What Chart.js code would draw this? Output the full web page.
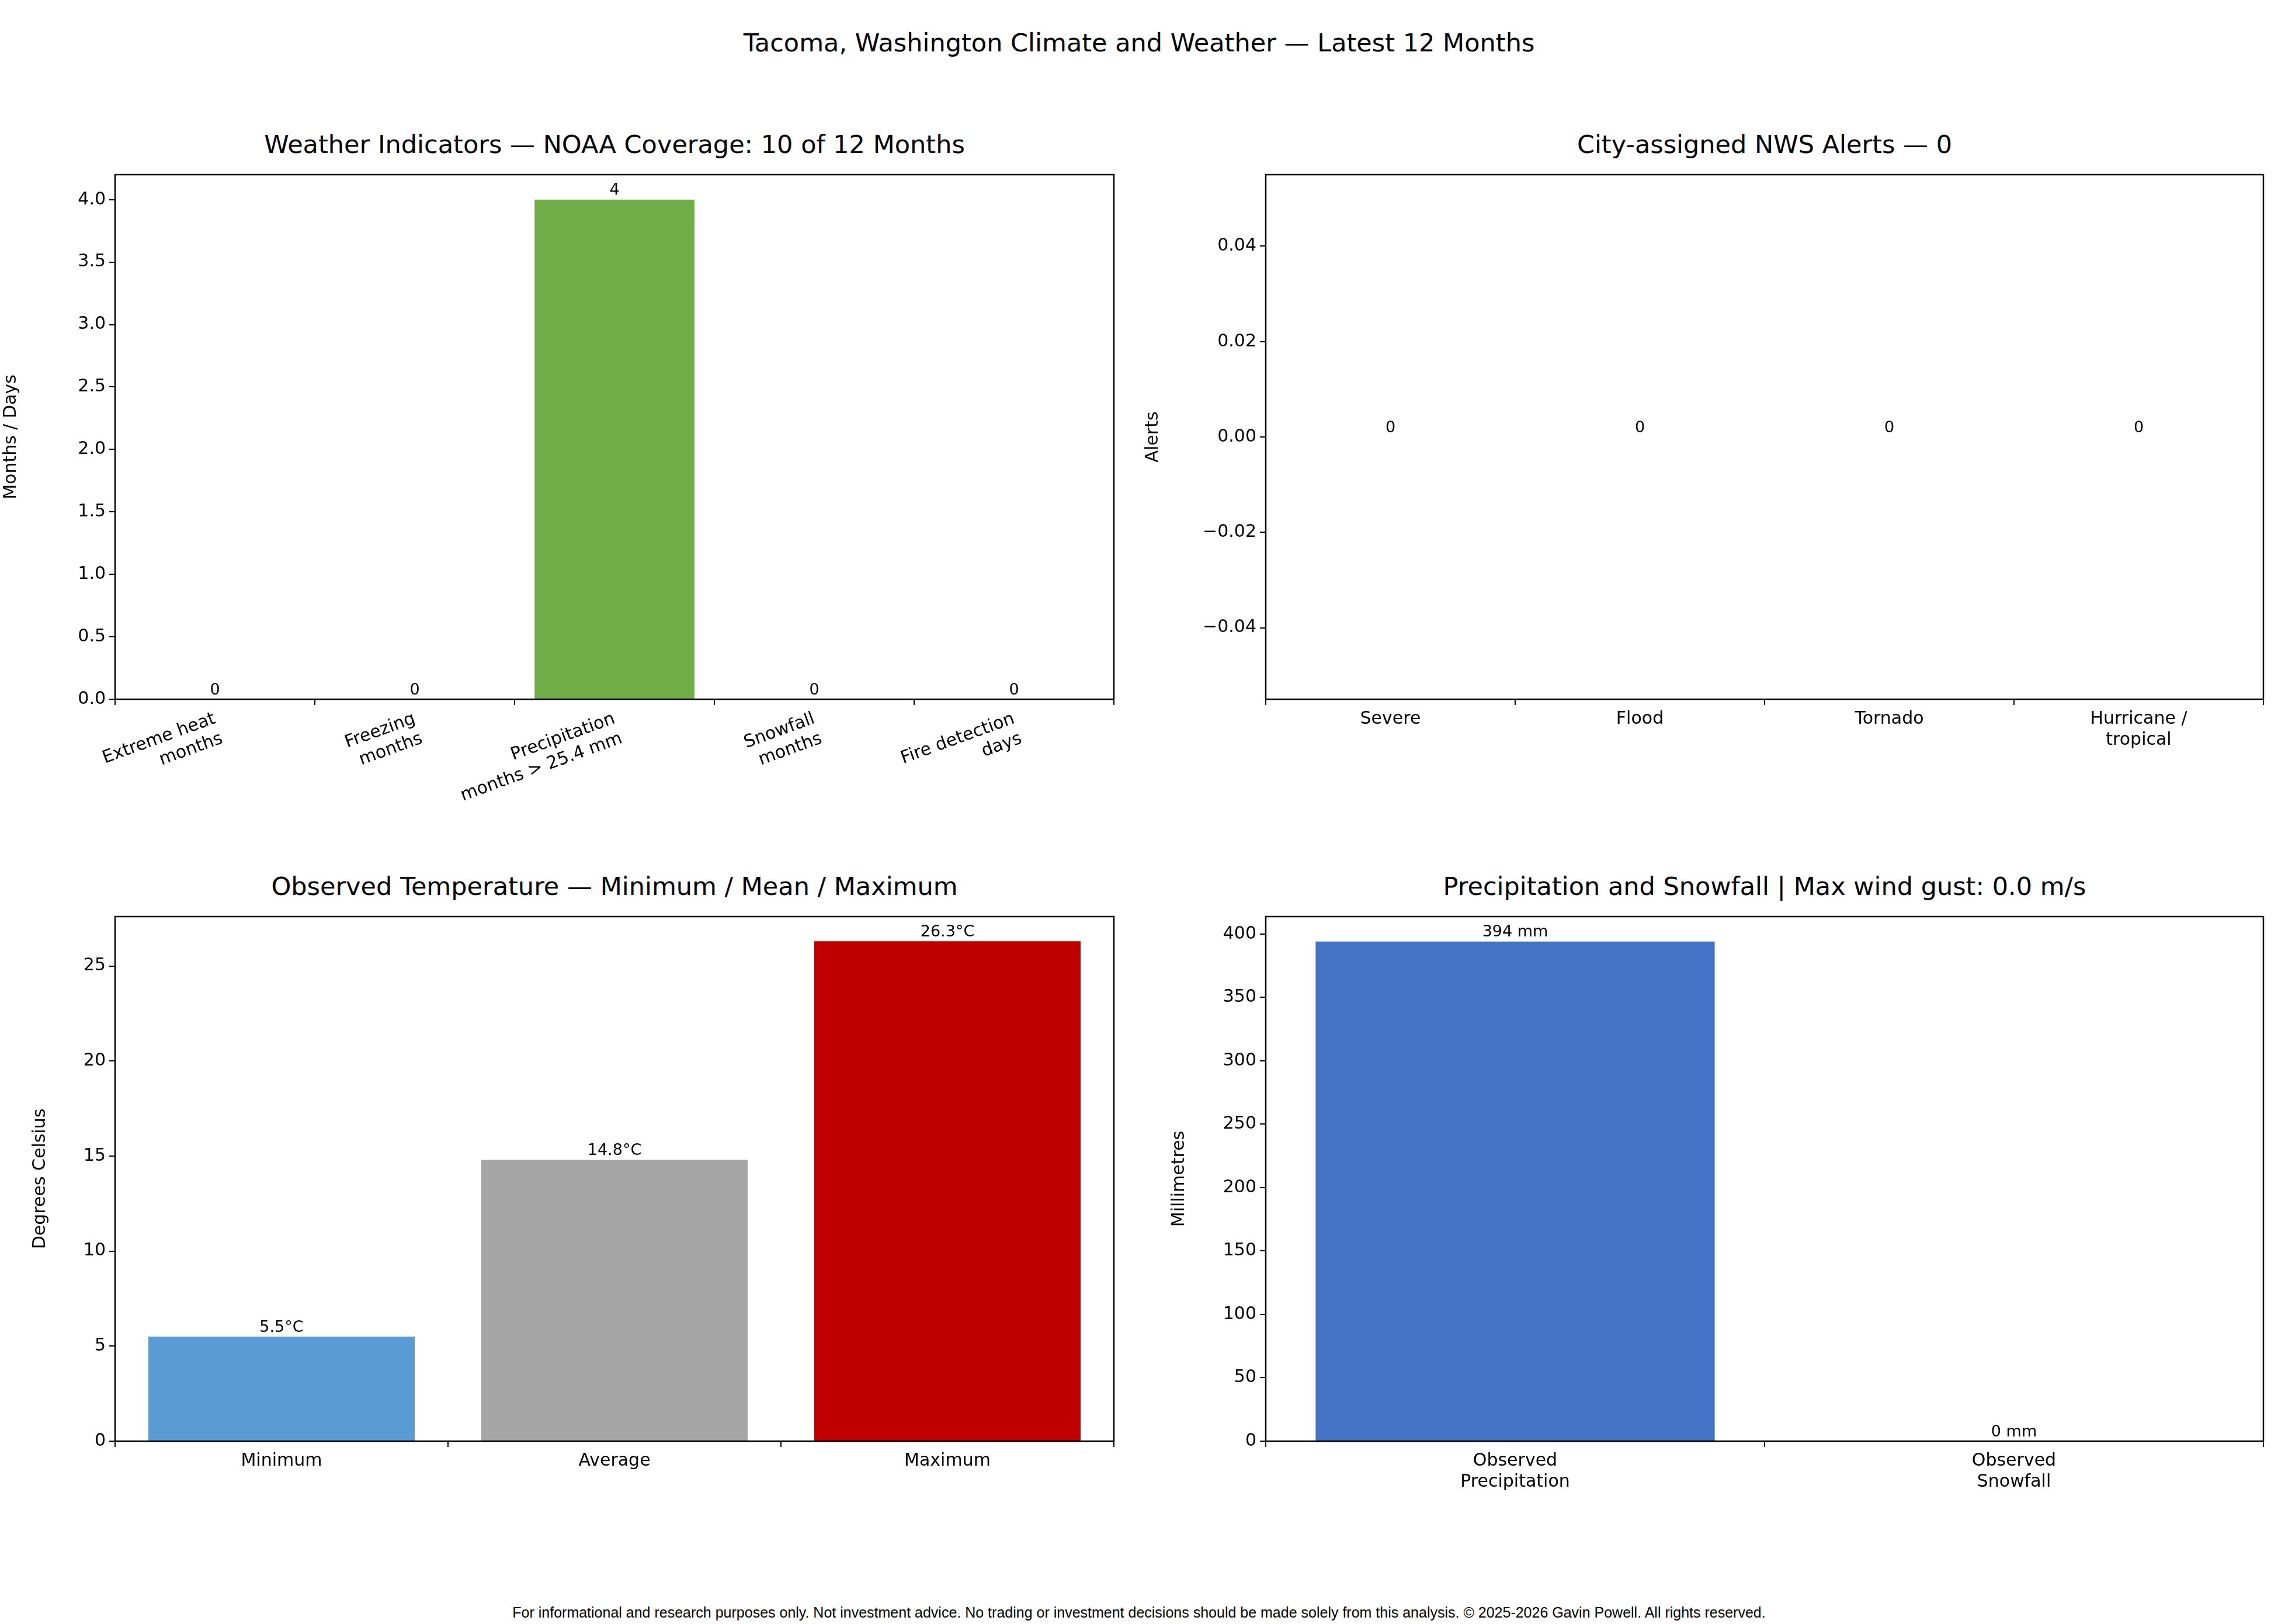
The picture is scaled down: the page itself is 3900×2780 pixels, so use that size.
<!DOCTYPE html>
<html>
<head>
<meta charset="utf-8">
<script src="https://cdn.jsdelivr.net/npm/chart.js@4.4.1/dist/chart.umd.min.js"></script>
<style>
body { margin:0; background:#fff; width:3900px; height:2780px; position:relative; overflow:hidden; font-family:"DejaVu Sans", sans-serif; }
canvas { position:absolute; }
.t { position:absolute; text-align:center; color:#000; white-space:nowrap; }
</style>
</head>
<body>
<div class="t" style="left:0;width:3900px;top:48px;font-size:43px;">Tacoma, Washington Climate and Weather — Latest 12 Months</div>
<div class="t" style="left:197px;width:1710px;top:222px;font-size:43px;">Weather Indicators — NOAA Coverage: 10 of 12 Months</div>
<div class="t" style="left:2167px;width:1708px;top:222px;font-size:43px;">City-assigned NWS Alerts — 0</div>
<div class="t" style="left:197px;width:1710px;top:1492px;font-size:43px;">Observed Temperature — Minimum / Mean / Maximum</div>
<div class="t" style="left:2167px;width:1708px;top:1492px;font-size:43px;">Precipitation and Snowfall | Max wind gust: 0.0 m/s</div>
<div class="t" style="left:0;width:3900px;top:2746px;font-size:25px;font-family:'Liberation Sans',Arial,sans-serif;">For informational and research purposes only. Not investment advice. No trading or investment decisions should be made solely from this analysis. © 2025-2026 Gavin Powell. All rights reserved.</div>
<canvas id="c1"></canvas>
<canvas id="c2"></canvas>
<canvas id="c3"></canvas>
<canvas id="c4"></canvas>
<script>
// data
const indicatorLabels = [['Extreme heat','months'],['Freezing','months'],['Precipitation','months > 25.4 mm'],['Snowfall','months'],['Fire detection','days']];
const indicatorValues = [0, 0, 4, 0, 0];
const indicatorTicks = [0, 0.5, 1, 1.5, 2, 2.5, 3, 3.5, 4];

const alertLabels = ['Severe', 'Flood', 'Tornado', ['Hurricane /', 'tropical']];
const alertValues = [0, 0, 0, 0];
const alertTicks = [-0.04, -0.02, 0, 0.02, 0.04];

const tempLabels = ['Minimum', 'Average', 'Maximum'];
const tempValues = [5.5, 14.8, 26.3];
const tempTicks = [0, 5, 10, 15, 20, 25];

const precipLabels = [['Observed', 'Precipitation'], ['Observed', 'Snowfall']];
const precipValues = [394, 0];
const precipTicks = [0, 50, 100, 150, 200, 250, 300, 350, 400];

Chart.defaults.font.family = '"DejaVu Sans", sans-serif';
Chart.defaults.color = '#000';

const FONT = 30;

// bar value labels + box frame
const extras = {
  id: 'extras',
  afterDatasetsDraw(chart, args, opts) {
    const ctx = chart.ctx;
    const a = chart.chartArea;
    ctx.save();
    ctx.strokeStyle = '#000';
    ctx.lineWidth = 2.5;
    ctx.strokeRect(a.left, a.top, a.right - a.left, a.bottom - a.top);
    ctx.fillStyle = '#000';
    ctx.font = '27px "DejaVu Sans"';
    ctx.textAlign = 'center';
    ctx.textBaseline = 'bottom';
    const meta = chart.getDatasetMeta(0);
    const vals = chart.data.datasets[0].data;
    meta.data.forEach((el, i) => {
      ctx.fillText(opts.fmt(vals[i]), el.x, el.y - 2);
    });
    ctx.restore();
  }
};

function makeChart(id, box, yw, xh, labels, values, colors, ticks, ymin, ymax, ytitle, fmtTick, fmtLabel, rot) {
  const pad = 20;
  const cv = document.getElementById(id);
  const w = box.w + yw + pad, h = box.h + pad + xh;
  cv.style.left = (box.x - yw) + 'px';
  cv.style.top = (box.y - pad) + 'px';
  cv.style.width = w + 'px';
  cv.style.height = h + 'px';
  cv.width = w; cv.height = h;
  return new Chart(cv, {
    type: 'bar',
    data: { labels: labels, datasets: [{ data: values, backgroundColor: colors, barPercentage: 0.8, categoryPercentage: 1.0 }] },
    plugins: [extras],
    options: {
      responsive: false,
      animation: false,
      devicePixelRatio: 1,
      layout: { padding: { top: pad, right: pad, left: 0, bottom: 0 } },
      plugins: { legend: { display: false }, tooltip: { enabled: false }, extras: { fmt: fmtLabel } },
      scales: {
        x: {
          grid: { display: true, drawOnChartArea: false, color: '#000', lineWidth: 2, tickLength: 10 },
          border: { display: false },
          ticks: { font: { size: FONT }, maxRotation: rot, minRotation: rot, padding: 6 },
          afterFit(s) { s.height = xh; }
        },
        y: {
          min: ymin, max: ymax,
          grid: { display: true, drawOnChartArea: false, color: '#000', lineWidth: 2, tickLength: 10 },
          border: { display: false },
          title: { display: true, text: ytitle, font: { size: FONT } },
          ticks: { font: { size: FONT }, padding: 6, callback: fmtTick },
          afterBuildTicks(s) { s.ticks = ticks.map(v => ({ value: v })); },
          afterFit(s) { s.width = yw; }
        }
      }
    }
  });
}

makeChart('c1', { x: 197, y: 295, w: 1710, h: 902 }, 200, 270, indicatorLabels, indicatorValues,
  '#70AD47', indicatorTicks, 0, 4.2, 'Months / Days', v => v.toFixed(1), v => String(v), 20);
makeChart('c2', { x: 2167, y: 295, w: 1708, h: 902 }, 215, 160, alertLabels, alertValues,
  'rgba(0,0,0,0)', alertTicks, -0.055, 0.055, 'Alerts', v => v.toFixed(2).replace('-', '\u2212'), v => String(v), 0);
makeChart('c3', { x: 197, y: 1565, w: 1710, h: 902 }, 150, 160, tempLabels, tempValues,
  ['#5B9BD5', '#A5A5A5', '#C00000'], tempTicks, 0, 27.6, 'Degrees Celsius', v => String(v), v => v.toFixed(1) + '°C', 0);
makeChart('c4', { x: 2167, y: 1565, w: 1708, h: 902 }, 170, 160, precipLabels, precipValues,
  '#4472C4', precipTicks, 0, 413.7, 'Millimetres', v => String(v), v => Math.round(v) + ' mm', 0);
</script>
</body>
</html>
